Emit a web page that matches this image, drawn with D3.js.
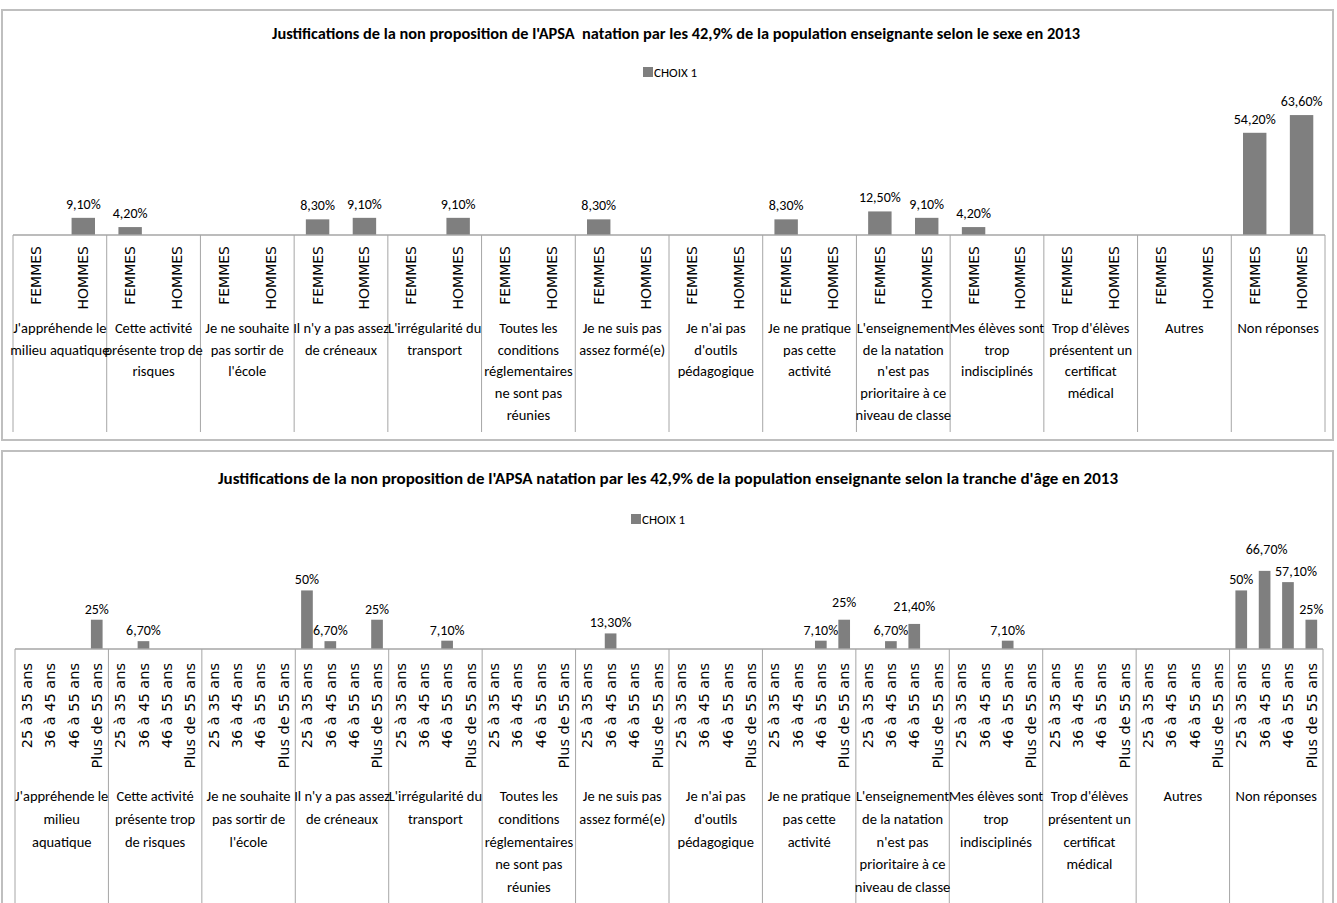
<!DOCTYPE html>
<html>
<head>
<meta charset="utf-8">
<script src="https://cdn.jsdelivr.net/npm/d3@7"></script>
<style>
    body { margin: 0; background: #ffffff; }
    svg { display: block; }
</style>
</head>
<body>
<svg id="chart" width="1337" height="903"></svg>
<script>
// ---- data ----
var sexes = ["FEMMES", "HOMMES"];
var ages = ["25 à 35 ans", "36 à 45 ans", "46 à 55 ans", "Plus de 55 ans"];

// category labels, wrapped the way each chart wraps them
var categoriesSexe = [
    ["J'appréhende le", "milieu aquatique"],
    ["Cette activité", "présente trop de", "risques"],
    ["Je ne souhaite", "pas sortir de", "l'école"],
    ["Il n'y a pas assez", "de créneaux"],
    ["L'irrégularité du", "transport"],
    ["Toutes les", "conditions", "réglementaires", "ne sont pas", "réunies"],
    ["Je ne suis pas", "assez formé(e)"],
    ["Je n'ai pas", "d'outils", "pédagogique"],
    ["Je ne pratique", "pas cette", "activité"],
    ["L'enseignement", "de la natation", "n'est pas", "prioritaire à ce", "niveau de classe"],
    ["Mes élèves sont", "trop", "indisciplinés"],
    ["Trop d'élèves", "présentent un", "certificat", "médical"],
    ["Autres"],
    ["Non réponses"]
];
var categoriesAge = [
    ["J'appréhende le", "milieu", "aquatique"],
    ["Cette activité", "présente trop", "de risques"],
    ["Je ne souhaite", "pas sortir de", "l'école"],
    ["Il n'y a pas assez", "de créneaux"],
    ["L'irrégularité du", "transport"],
    ["Toutes les", "conditions", "réglementaires", "ne sont pas", "réunies"],
    ["Je ne suis pas", "assez formé(e)"],
    ["Je n'ai pas", "d'outils", "pédagogique"],
    ["Je ne pratique", "pas cette", "activité"],
    ["L'enseignement", "de la natation", "n'est pas", "prioritaire à ce", "niveau de classe"],
    ["Mes élèves sont", "trop", "indisciplinés"],
    ["Trop d'élèves", "présentent un", "certificat", "médical"],
    ["Autres"],
    ["Non réponses"]
];

// values in %, null = no bar
var femmes = [null, 4.2, null, 8.3, null, null, 8.3, null, 8.3, 12.5, 4.2, null, null, 54.2];
var hommes = [9.1, null, null, 9.1, 9.1, null, null, null, null, 9.1, null, null, null, 63.6];

var age25 = [null, null, null, 50, null, null, null, null, null, null, null, null, null, 50];
var age36 = [null, 6.7, null, 6.7, null, null, 13.3, null, null, 6.7, null, null, null, 66.7];
var age46 = [null, null, null, null, 7.1, null, null, null, 7.1, 21.4, 7.1, null, null, 57.1];
var age55 = [25, null, null, 25, null, null, null, null, 25, null, null, null, null, 25];

var titleSexe = "Justifications de la non proposition de l'APSA\u00a0 natation par les 42,9% de la population enseignante selon le sexe en 2013";
var titleAge = "Justifications de la non proposition de l'APSA natation par les 42,9% de la population enseignante selon la tranche d'âge en 2013";
var legendLabel = "CHOIX 1";

// ---- style ----
var BAR = "#7f7f7f",
    LINE = "#a6a6a6",
    FRAME = "#bfbfbf",
    NARROW = "Carlito, 'Liberation Sans Narrow', 'Open Sans', sans-serif",
    WIDE = "'DejaVu Sans', Verdana, sans-serif";

// labels that were moved by hand in the original so they do not collide
var ageLabelNudge = {
    "8|Plus de 55 ans": [0, -7],
    "9|46 à 55 ans": [0, -7],
    "13|36 à 45 ans": [2, -11],
    "13|46 à 55 ans": [8, 0]
};

var svg = d3.select("#chart");

/**
 * Format a percentage the way the spreadsheet did: 9,10% / 50%
 */
function fmt(v) {
    return (Number.isInteger(v) ? String(v) : v.toFixed(2).replace(".", ",")) + "%";
}

/**
 * Draw one grouped bar chart with its frame, title, legend and two-level axis.
 */
function drawChart(cfg) {
    var g = svg.append("g");

    g.append("rect")
        .attr("x", cfg.frame[0]).attr("y", cfg.frame[1])
        .attr("width", cfg.frame[2]).attr("height", cfg.frame[3])
        .attr("fill", "#fff")
        .attr("stroke", FRAME)
        .attr("stroke-width", 2);

    g.append("text")
        .attr("x", cfg.titleX).attr("y", cfg.titleY)
        .attr("text-anchor", "middle")
        .attr("dominant-baseline", "central")
        .attr("textLength", cfg.titleW)
        .attr("lengthAdjust", "spacingAndGlyphs")
        .style("font-family", NARROW)
        .style("font-size", "16px")
        .style("font-weight", "bold")
        .text(cfg.title);

    // legend
    g.append("rect")
        .attr("x", cfg.legendX).attr("y", cfg.legendY - 5)
        .attr("width", 10).attr("height", 10)
        .attr("fill", BAR);
    g.append("text")
        .attr("x", cfg.legendX + 11).attr("y", cfg.legendY)
        .attr("dominant-baseline", "central")
        .style("font-family", NARROW)
        .style("font-size", "13px")
        .text(legendLabel);

    var n = cfg.categories.length,
        x0 = d3.scaleBand().domain(d3.range(n)).range([cfg.left, cfg.right]),
        x1 = d3.scaleBand().domain(cfg.subs).range([0, x0.bandwidth()])
            .paddingInner(0.5).paddingOuter(0.25),
        y = d3.scaleLinear().domain([0, 70]).range([cfg.axisY, cfg.plotTop]);

    var bars = [];
    cfg.series.forEach(function (values, s) {
        values.forEach(function (v, i) {
            if (v !== null) bars.push({cat: i, sub: cfg.subs[s], value: v});
        });
    });

    g.selectAll("rect.bar")
        .data(bars)
        .enter().append("rect")
        .attr("class", "bar")
        .attr("x", function (d) { return x0(d.cat) + x1(d.sub); })
        .attr("y", function (d) { return y(d.value); })
        .attr("width", x1.bandwidth())
        .attr("height", function (d) { return y(0) - y(d.value); })
        .attr("fill", BAR);

    var nudge = cfg.nudge || {};
    g.selectAll("text.val")
        .data(bars)
        .enter().append("text")
        .attr("class", "val")
        .attr("x", function (d) {
            var off = nudge[d.cat + "|" + d.sub] || [0, 0];
            return x0(d.cat) + x1(d.sub) + x1.bandwidth() / 2 + off[0];
        })
        .attr("y", function (d) {
            var off = nudge[d.cat + "|" + d.sub] || [0, 0];
            return y(d.value) - cfg.labelGap + off[1];
        })
        .attr("text-anchor", "middle")
        .style("font-family", NARROW)
        .style("font-size", "14px")
        .text(function (d) { return fmt(d.value); });

    // inner axis with the rotated sub-category labels
    var keys = [];
    d3.range(n).forEach(function (i) {
        cfg.subs.forEach(function (s) { keys.push(i + "|" + s); });
    });
    var xt = d3.scaleBand().domain(keys).range([cfg.left, cfg.right]);

    var axis = g.append("g")
        .attr("transform", "translate(0," + cfg.axisY + ")")
        .call(d3.axisBottom(xt).tickSize(0).tickFormat(function (k) { return k.split("|")[1]; }));
    axis.select(".domain").remove();
    axis.selectAll("text")
        .attr("transform", "rotate(-90)")
        .attr("x", -cfg.tickGap)
        .attr("y", 0)
        .attr("dy", "0.36em")
        .style("text-anchor", "end")
        .style("font-family", WIDE)
        .style("font-size", cfg.tickSize + "px")
        .style("fill", "#000");

    g.append("line")
        .attr("x1", cfg.left).attr("x2", cfg.right)
        .attr("y1", cfg.axisY).attr("y2", cfg.axisY)
        .attr("stroke", LINE).attr("stroke-width", 1.5);

    // group dividers
    g.selectAll("line.div")
        .data(d3.range(n + 1))
        .enter().append("line")
        .attr("class", "div")
        .attr("x1", function (i) { return i < n ? x0(i) : cfg.right; })
        .attr("x2", function (i) { return i < n ? x0(i) : cfg.right; })
        .attr("y1", cfg.axisY).attr("y2", cfg.divBottom)
        .attr("stroke", LINE).attr("stroke-width", 1);

    // category labels
    var cat = g.selectAll("text.cat")
        .data(cfg.categories)
        .enter().append("text")
        .attr("class", "cat")
        .attr("text-anchor", "middle")
        .style("font-family", NARROW)
        .style("font-size", "14.5px");
    cat.each(function (lines, i) {
        var t = d3.select(this);
        lines.forEach(function (line, j) {
            t.append("tspan")
                .attr("x", x0(i) + x0.bandwidth() / 2)
                .attr("y", cfg.catY + j * cfg.lineH)
                .attr("dominant-baseline", "central")
                .text(line);
        });
    });
}

drawChart({
    frame: [2, 10, 1331, 430],
    title: titleSexe, titleX: 676, titleY: 33, titleW: 808,
    legendX: 643, legendY: 72,
    left: 13, right: 1325, axisY: 235, plotTop: 103, divBottom: 432,
    subs: sexes, series: [femmes, hommes],
    categories: categoriesSexe,
    labelGap: 9, tickGap: 11, tickSize: 14,
    catY: 328, lineH: 21.7
});

drawChart({
    frame: [2, 451, 1331, 470],
    title: titleAge, titleX: 668, titleY: 478, titleW: 900,
    legendX: 631, legendY: 519,
    left: 15, right: 1323, axisY: 649, plotTop: 567, divBottom: 905,
    subs: ages, series: [age25, age36, age46, age55],
    categories: categoriesAge,
    nudge: ageLabelNudge,
    labelGap: 6, tickGap: 14, tickSize: 14.5,
    catY: 796, lineH: 22.8
});
</script>
</body>
</html>
